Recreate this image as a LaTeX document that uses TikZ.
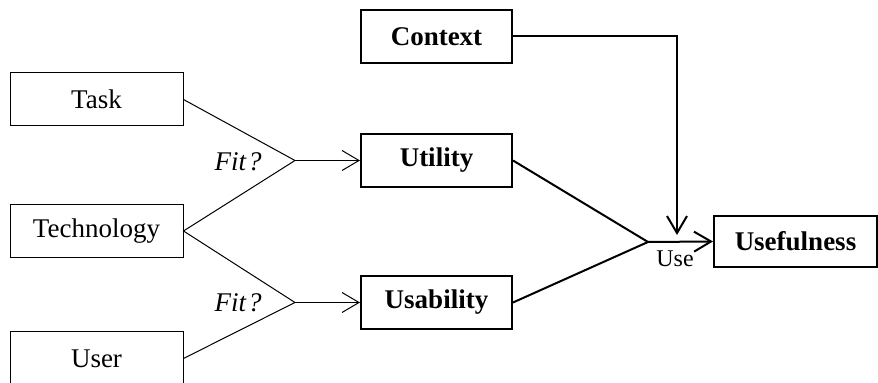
\documentclass[tikz,border=0pt]{standalone}
\usepackage{fontspec}
\setmainfont{Liberation Serif}
\usetikzlibrary{arrows.meta}
\begin{document}
\begin{tikzpicture}[x=0.5pt,y=-0.5pt,
 thinbox/.style={draw, line width=0.5pt, minimum width=86.5pt, minimum height=26.5pt, inner sep=0pt, font=\fontsize{13.5}{16}\selectfont},
 thickbox/.style={draw, line width=1pt, minimum width=75.5pt, minimum height=26.5pt, inner sep=0pt, font=\fontsize{13.5}{16}\selectfont\bfseries},
 thinline/.style={line width=0.5pt},
 thickline/.style={line width=1pt},
 barb/.style={-{Straight Barb[length=8.5pt,width=10pt]}},
 fitlabel/.style={font=\fontsize{13.5}{16}\selectfont\itshape},
 uselabel/.style={font=\fontsize{12}{14}\selectfont}]
\useasboundingbox (0,0) rectangle (878,383);
% left boxes
\node[thinbox] (task) at (96.5,99.5) {Task};
\node[thinbox] (tech) at (96.5,231) {Technology};
\node[thinbox] (user) at (96.5,358.5) {User};
% fit points
\coordinate (f1) at (295,160.5);
\coordinate (f2) at (295,302.5);
\node[fitlabel] (fit1) at (238,162) {Fit\kern1pt?};
\node[fitlabel] (fit2) at (238,303) {Fit\kern1pt?};
% middle boxes
\node[thickbox] (ctx) at (436.5,36.5) {Context};
\node[thickbox] (util) at (436.5,160.5) {Utility};
\node[thickbox] (usab) at (436.5,302.5) {Usability};
\node[thickbox, minimum width=81.5pt, minimum height=25.5pt] (usef) at (795.5,241.5) {Usefulness};
% junction
\coordinate (j) at (648,242);
\coordinate (ctxdown) at (677,235);
\node[uselabel] (use) at (675,259) {Use};
% connectors
\draw[thinline] (task.east) -- (f1) -- (tech.east) -- (f2) -- (user.east);
\draw[thinline,barb] (f1) -- (util.west);
\draw[thinline,barb] (f2) -- (usab.west);
\draw[thickline] (util.east) -- (j) -- (usab.east);
\draw[thickline,barb] (j) -- (usef.west);
\draw[thickline,barb] (ctx.east) -| (ctxdown);
\end{tikzpicture}
\end{document}
